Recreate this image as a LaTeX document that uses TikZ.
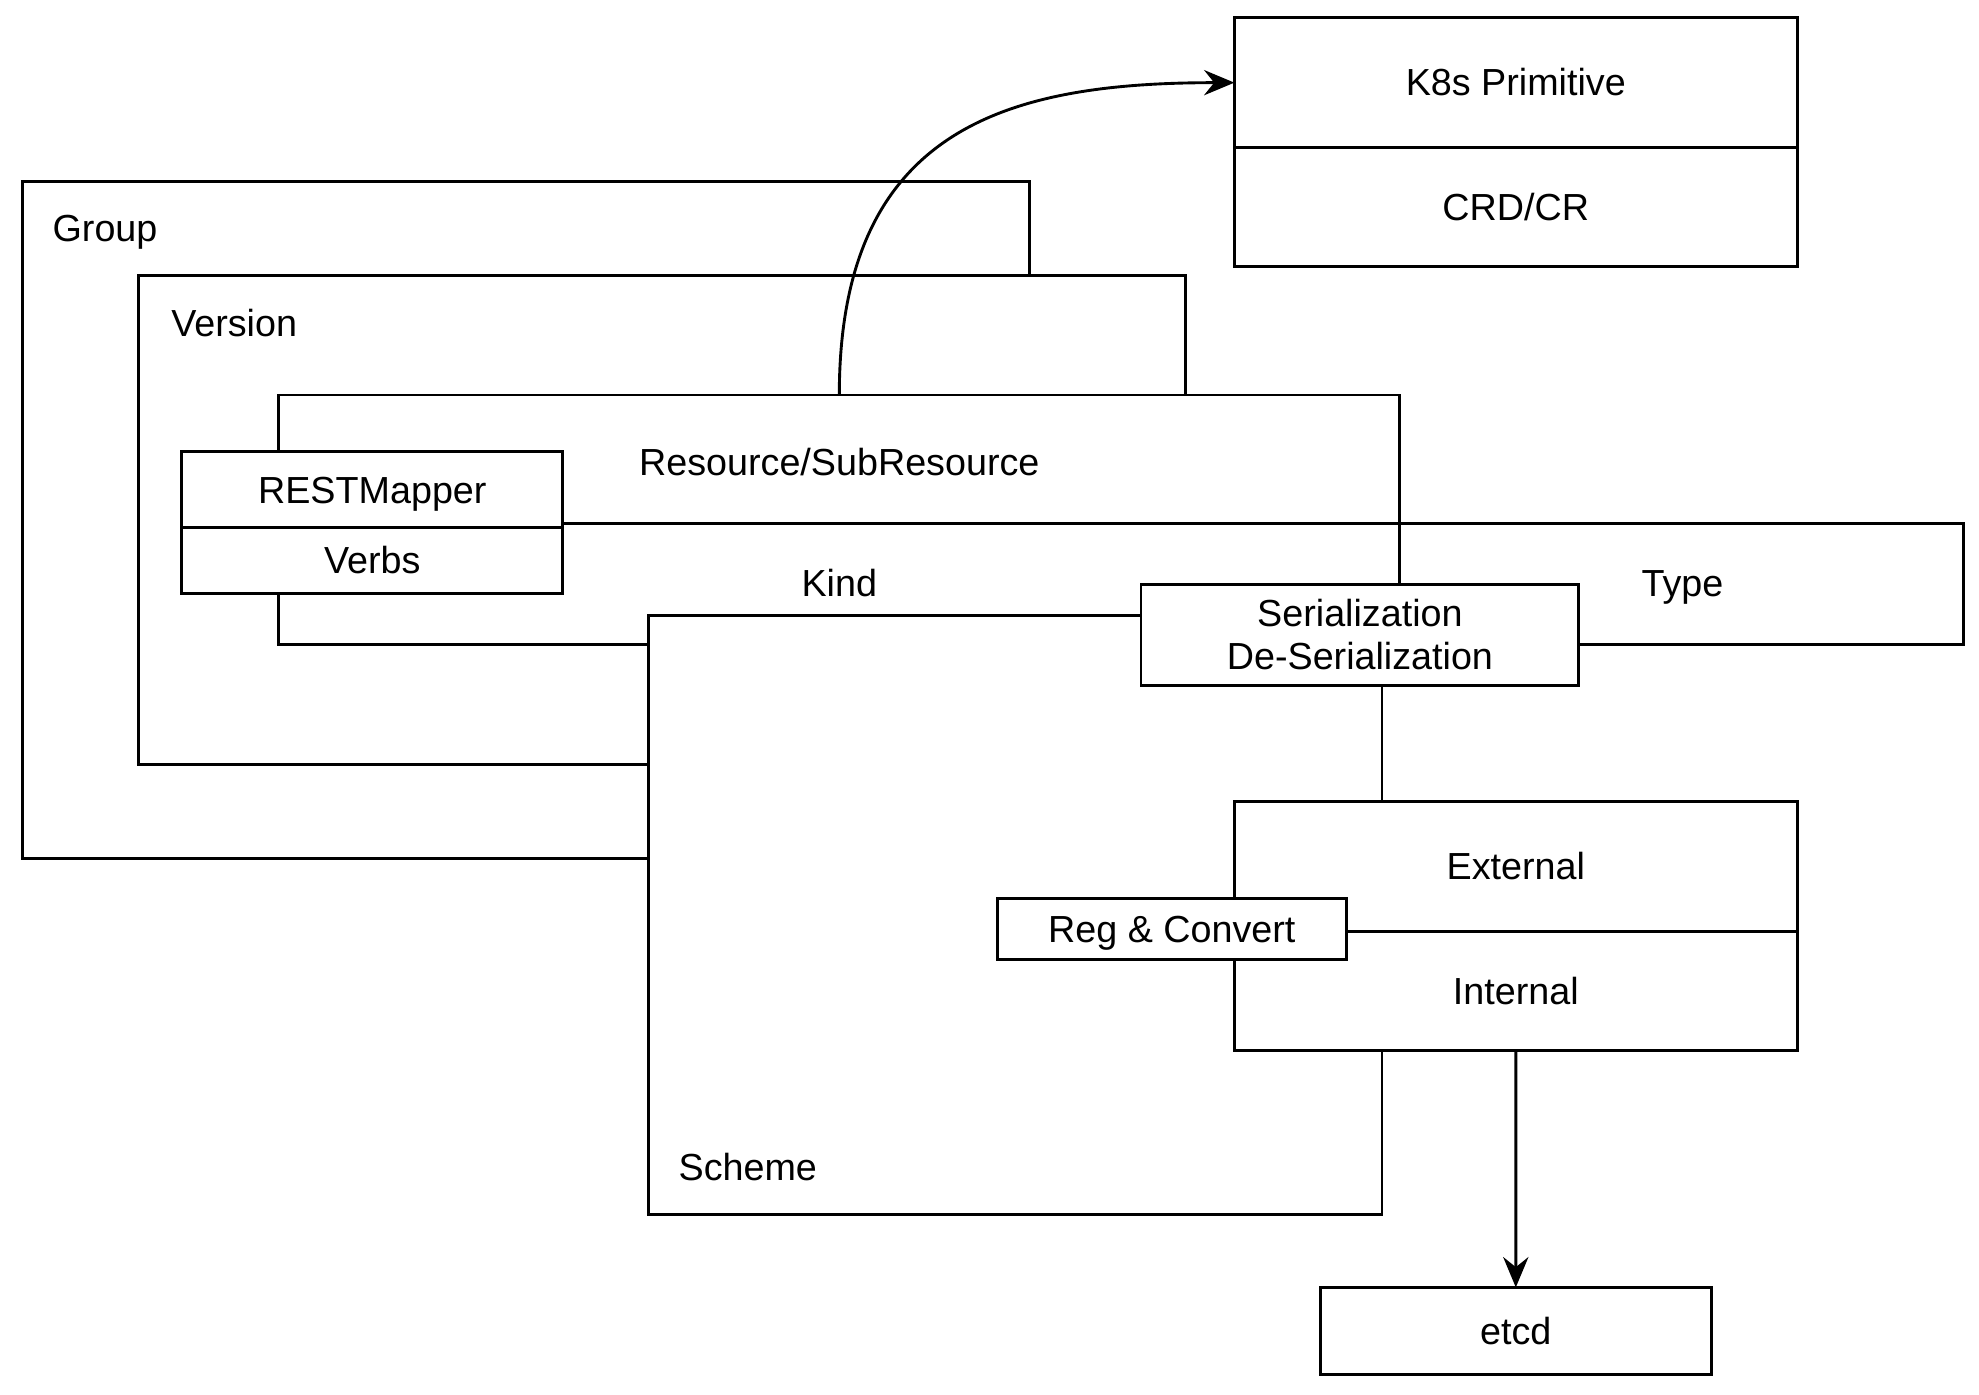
\documentclass[tikz,border=0pt]{standalone}
\usepackage{fontspec}
\setmainfont{Liberation Sans}
\usetikzlibrary{arrows.meta,positioning}

\begin{document}
\begin{tikzpicture}[x=0.1mm,y=-0.1mm,font=\fontsize{8.5}{9.7}\selectfont,
 >={Stealth[length=2.4mm,width=2mm,inset=0.8mm]},
 every node/.style={text height=.73em,text depth=.13em},
 frame/.style={draw,line width=.65pt,anchor=north west,inner sep=0pt,outer sep=0pt,align=center},
 blank/.style={frame,fill=white},
 lbl/.style={inner sep=0pt,anchor=west},
 arr/.style={->,line width=.65pt}]

\path[use as bounding box] (0,0) rectangle (1568,1105);

% nested scopes, back to front
\node[blank,minimum width=79.8mm,minimum height=53.6mm] (group) at (18,144) {};
\node[blank,minimum width=82.9mm,minimum height=38.8mm] (version) at (110,218) {};
\node[blank,minimum width=88.8mm,minimum height=19.8mm] (resource) at (221,313) {};
\node[frame,minimum width=133.5mm,minimum height=9.6mm] (kindtype) at (221,415) {};
\node[blank,minimum width=58.1mm,minimum height=47.4mm] (scheme) at (514,488) {};

\node[lbl] (grouplbl) at (41,181) {Group};
\node[lbl] (versionlbl) at (135,256) {Version};
\node (reslbl) at (665,366) {Resource/SubResource};
\node (kindlbl) at (665,462) {Kind};
\node (typelbl) at (1333,462) {Type};
\node[lbl] (schemelbl) at (537,925) {Scheme};

% boxes on top
\node[blank,text height=,text depth=,minimum width=34.7mm,minimum height=8mm] (serde) at (904,463) {Serialization\\De-Serialization};
\node[blank,minimum width=44.6mm,minimum height=10.3mm] (external) at (978,635) {External};
\node[blank,minimum width=44.6mm,minimum height=9.4mm] (internal) at (external.south west) {Internal};
\node[blank,minimum width=27.7mm,minimum height=4.8mm] (regconv) at (790,712) {Reg \& Convert};
\node[blank,minimum width=30.2mm,minimum height=6mm] (restmapper) at (144,358) {RESTMapper};
\node[blank,minimum width=30.2mm,minimum height=5.2mm] (verbs) at (restmapper.south west) {Verbs};

\node[frame,minimum width=44.6mm,minimum height=10.3mm] (k8s) at (978,14) {K8s Primitive};
\node[frame,minimum width=44.6mm,minimum height=9.4mm] (crd) at (k8s.south west) {CRD/CR};
\node[frame,minimum width=31mm,minimum height=6.9mm] (etcd) at (1046,1020) {etcd};

\draw[arr] (resource.north) .. controls +(0,-213) and +(-178,0) .. (k8s.west);
\draw[arr] (internal.south) -- (etcd.north);

\end{tikzpicture}
\end{document}
